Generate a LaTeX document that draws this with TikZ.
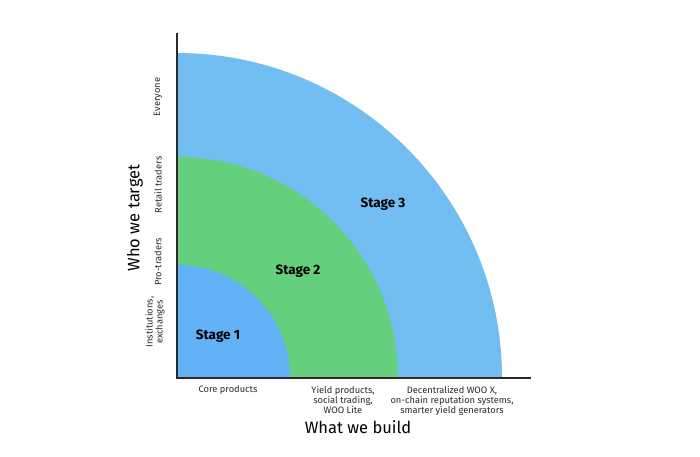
\documentclass[tikz,border=0pt]{standalone}
\usepackage{fontspec}
\setmainfont{Fira Sans}
\usetikzlibrary{positioning}
\definecolor{outerblue}{HTML}{72BDF2}
\definecolor{stagegreen}{HTML}{64D07E}
\definecolor{innerblue}{HTML}{63B1F7}
\definecolor{axisgray}{HTML}{2B2B2B}
\tikzset{
  stagelabel/.style={font=\bfseries\fontsize{13.5}{16}\selectfont,text=black},
  ticklabel/.style={font=\fontsize{9.3}{10}\selectfont,align=center,text=axisgray,inner sep=1pt},
  axislabel/.style={font=\fontsize{16.5}{18}\selectfont,text=black}
}
\begin{document}
\begin{tikzpicture}[x=1pt,y=1pt]
	\useasboundingbox (0,0) rectangle (700,456);
	\coordinate (origin) at (177,78);
	\foreach \r/\c in {325/outerblue,221/stagegreen,113/innerblue} \fill[\c] (origin) -- ++(\r,0) arc[start angle=0,end angle=90,radius=\r] -- cycle;

	\draw[axisgray,line width=1.3pt] (177,423) -- (origin) -- (531,78);

	\node[stagelabel] (stage1) at (218,120) {Stage 1};
	\node[stagelabel] (stage2) at (298,185) {Stage 2};
	\node[stagelabel] (stage3) at (383,252) {Stage 3};

	\node[ticklabel,rotate=90] (everyone) at (158,359) {Everyone};
	\node[ticklabel,rotate=90] (retail) at (158,271) {Retail traders};
	\node[ticklabel,rotate=90] (pro) at (158,194) {Pro-traders};
	\node[ticklabel,rotate=90] (inst) at (155,134) {Institutions,\\exchanges};
	\node[axislabel,rotate=90] (ytitle) at (135,238) {Who we target};

	\node[ticklabel] (core) at (228,66) {Core products};
	\node[ticklabel,anchor=north] (yield) at (343,71) {Yield products,\\social trading,\\WOO Lite};
	\node[ticklabel,anchor=north] (decent) at (452,71) {Decentralized WOO X,\\on-chain reputation systems,\\smarter yield generators};
	\node[axislabel] (xtitle) at (358,29) {What we build};
\end{tikzpicture}
\end{document}
